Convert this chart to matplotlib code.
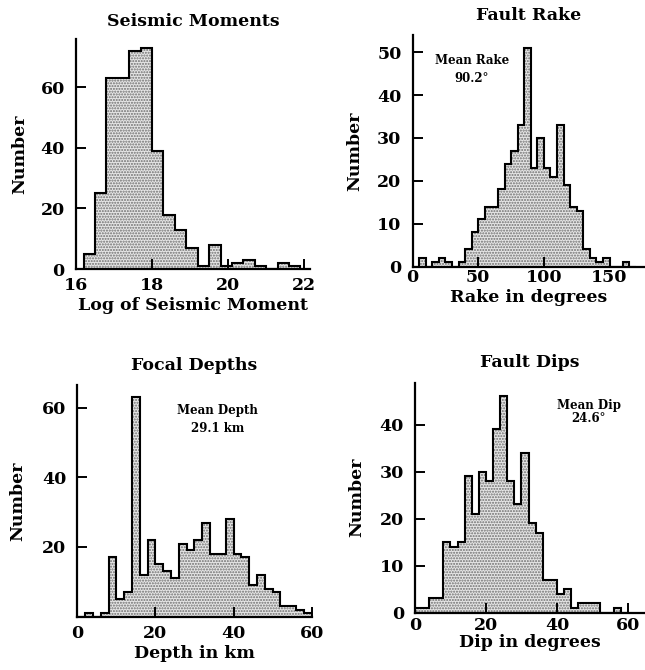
import numpy as np
import matplotlib
matplotlib.use("Agg")
import matplotlib.pyplot as plt

# ---------------- data ----------------
# Seismic moments (log10), bins of 0.3 starting at 16.2
moment_edges = np.round(np.arange(16.2, 21.9 + 0.001, 0.3), 2)
moment_counts = [5, 25, 63, 63, 72, 73, 39, 18, 13, 7, 1, 8, 1, 2, 3, 1, 0, 2, 1]

# Fault rake, bins of 5 degrees from 0
rake_edges = np.arange(0, 170 + 1, 5)
rake_counts = [0, 2, 0, 1, 2, 1, 0, 1, 4, 8, 11, 14, 14, 18, 24, 27, 33, 51,
               23, 30, 23, 21, 33, 19, 14, 13, 4, 2, 1, 2, 0, 0, 1, 0]

# Focal depths, bins of 2 km from 0
depth_edges = np.arange(0, 60 + 1, 2)
depth_counts = [0, 1, 0, 1, 17, 5, 7, 63, 12, 22, 15, 13, 11, 21, 19, 22, 27,
                18, 18, 28, 18, 17, 9, 12, 8, 7, 3, 3, 2, 1]

# Fault dips, bins of 2 degrees from 0
dip_edges = np.arange(0, 60 + 1, 2)
dip_counts = [1, 1, 3, 3, 15, 14, 15, 29, 21, 30, 28, 39, 46, 28, 23, 34, 19,
              17, 7, 7, 4, 5, 1, 2, 2, 2, 0, 0, 1, 0]

titles = ["Seismic Moments", "Fault Rake", "Focal Depths", "Fault Dips"]
xlabels = ["Log of Seismic Moment", "Rake in degrees", "Depth in km", "Dip in degrees"]
notes = [None, "Mean Rake\n90.2°", "Mean Depth\n29.1 km", "Mean Dip\n24.6°"]

# ---------------- style ----------------
FONT = "DejaVu Serif"
plt.rcParams["font.family"] = [FONT, "DejaVu Sans"]
plt.rcParams["hatch.linewidth"] = 1.0

fig = plt.figure(figsize=(6.45, 6.70), dpi=100)

panels = [
    dict(rect=[0.1178, 0.5985, 0.3628, 0.3433], edges=moment_edges, counts=moment_counts,
         xlim=(16, 22.15), ylim=(0, 76), xticks=[16, 18, 20, 22], yticks=[0, 20, 40, 60],
         note_xy=None, xpad=6, xlabpad=2, ylabpad=9, tpad=9, ls=1.5),
    dict(rect=[0.6398, 0.6020, 0.3602, 0.3458], edges=rake_edges, counts=rake_counts,
         xlim=(0, 177), ylim=(0, 54), xticks=[0, 50, 100, 150], yticks=[0, 10, 20, 30, 40, 50],
         note_xy=(45, 46), xpad=2, xlabpad=2, ylabpad=10, tpad=11, ls=1.5),
    dict(rect=[0.1198, 0.0796, 0.3634, 0.3458], edges=depth_edges, counts=depth_counts,
         xlim=(0, 60), ylim=(0, 66.5), xticks=[0, 20, 40, 60], yticks=[20, 40, 60],
         note_xy=(36, 56.5), xpad=6, xlabpad=2, ylabpad=11, tpad=11, ls=1.5),
    dict(rect=[0.6434, 0.0858, 0.3566, 0.3430], edges=dip_edges, counts=dip_counts,
         xlim=(0, 64.8), ylim=(0, 48.9), xticks=[0, 20, 40, 60], yticks=[0, 10, 20, 30, 40],
         note_xy=(49, 42.7), xpad=3, xlabpad=0.5, ylabpad=10, tpad=11, ls=1.0),
]

for i, p in enumerate(panels):
    ax = fig.add_axes(p["rect"])
    # stippled fill
    ax.stairs(p["counts"], p["edges"], fill=True, facecolor="#e6e6e6",
              edgecolor="#6e6e6e", hatch="......", linewidth=0)
    # outline
    ax.stairs(p["counts"], p["edges"], fill=False, color="black", linewidth=1.5)
    ax.set_xlim(*p["xlim"])
    ax.set_ylim(*p["ylim"])
    ax.set_xticks(p["xticks"])
    ax.set_yticks(p["yticks"])
    for s in ["top", "right"]:
        ax.spines[s].set_visible(False)
    for s in ["left", "bottom"]:
        ax.spines[s].set_linewidth(1.6)
    ax.tick_params(direction="in", length=7, width=1.4, labelsize=12.5)
    ax.tick_params(axis="y", pad=8)
    ax.tick_params(axis="x", pad=p["xpad"])
    for lab in ax.get_xticklabels() + ax.get_yticklabels():
        lab.set_fontweight("bold")
    ax.set_title(titles[i], fontsize=12.5, fontweight="bold", pad=p["tpad"])
    ax.set_xlabel(xlabels[i], fontsize=12.5, fontweight="bold", labelpad=p["xlabpad"])
    ax.set_ylabel("Number", fontsize=12.5, fontweight="bold", labelpad=p["ylabpad"])
    ax.set_facecolor("none")
    if notes[i] is not None:
        ax.text(p["note_xy"][0], p["note_xy"][1], notes[i], ha="center", va="center",
                fontsize=8.5, fontweight="bold", linespacing=p["ls"] + 0.0)

fig.savefig("out.png", dpi=100)
